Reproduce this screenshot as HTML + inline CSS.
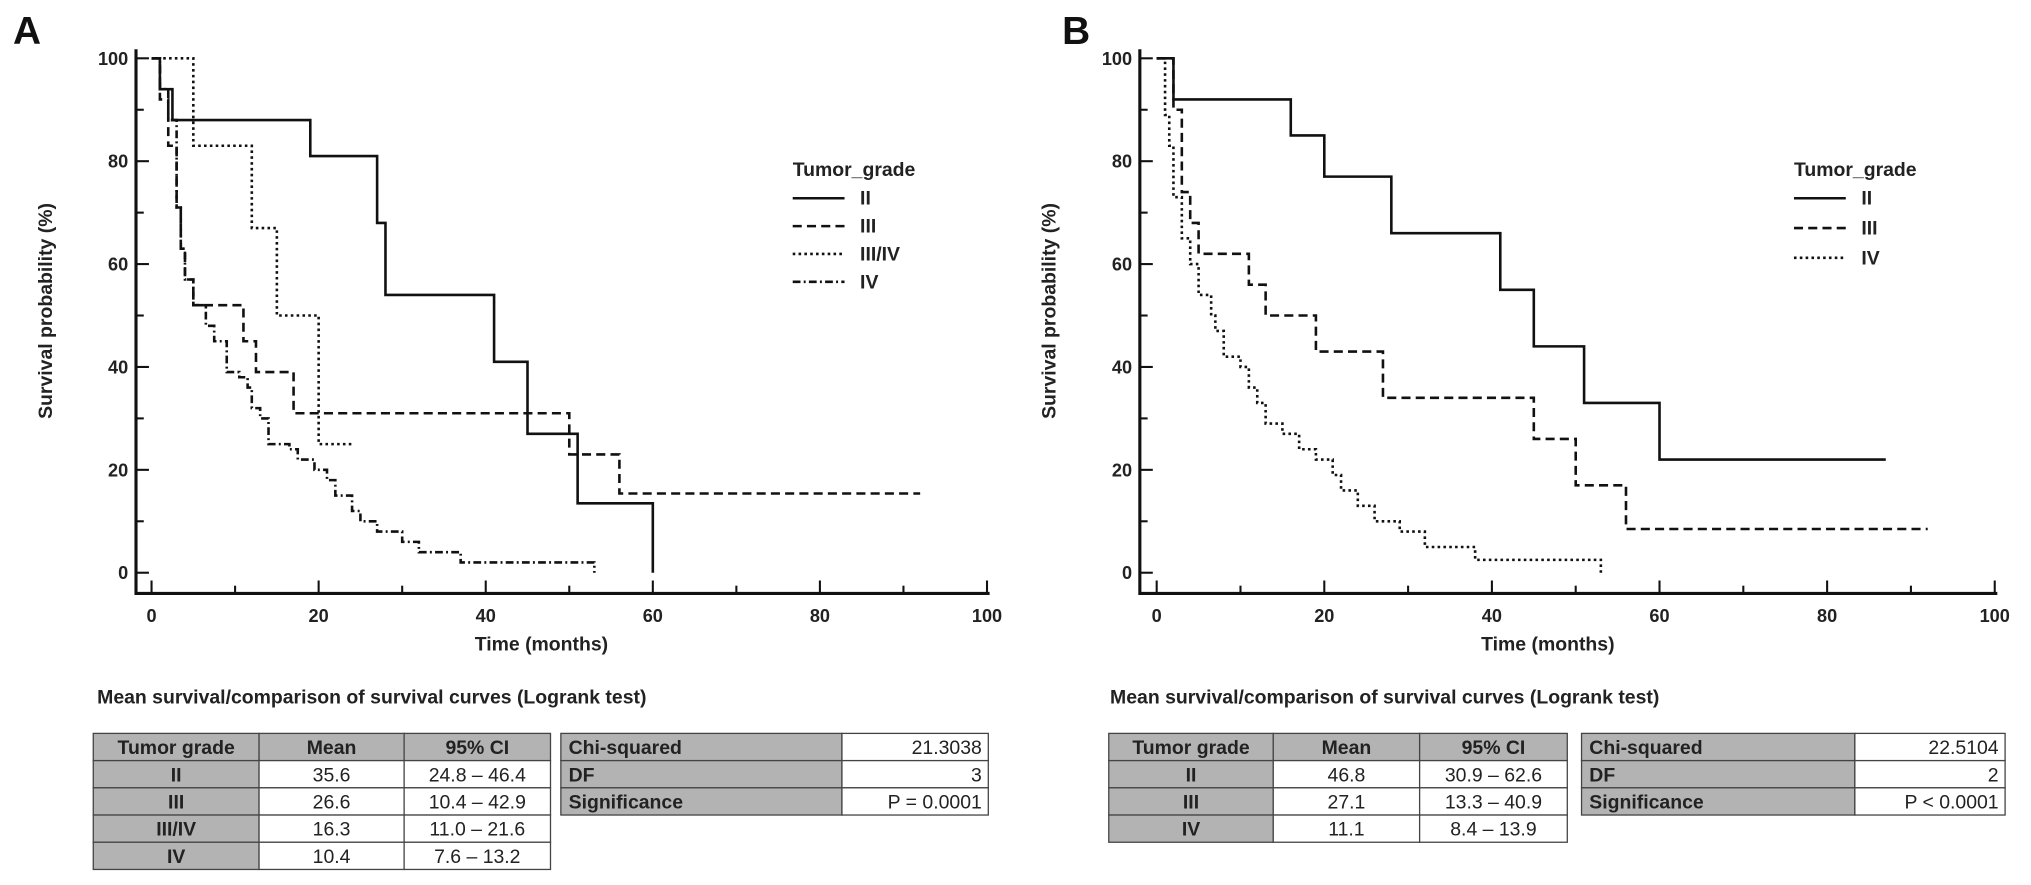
<!DOCTYPE html>
<html><head><meta charset="utf-8"><style>
body{margin:0;background:#fff;}
svg{display:block;font-family:"Liberation Sans",Arial,sans-serif;}
.t{font-weight:bold;font-size:15px;fill:#222;}
</style></head><body>
<svg id="c" width="2031" height="885" viewBox="0 0 1568 683" preserveAspectRatio="none">
<g id="root"></g>
</svg>
<script>
// Panel A data
const aIIt=[0,1,2.5,19,27,28,41,45,51,60];
const aIIs=[100,94,88,81,68,54,41,27,13.5,0];
const aIIIt=[0,1,2,3,3.5,4,5,11,12.5,17,50,56,92];
const aIIIs=[100,92,83,71,63,57,52,45,39,31,23,15.4,15.4];
const aIIIIVt=[0,5,12,15,20,24];
const aIIIIVs=[100,83,67,50,25,25];
const aIVt=[0,1,2,3,3.5,4,5,6.5,7.5,9,10.5,11.5,12,13,14,16.5,17.5,19.5,21,22,24,25,27,30,32,37,53,53];
const aIVs=[100,94,88,71,63,57,52,48,45,39,38,36,32,30,25,24,22,20,18,15,12,10,8,6,4,2,2,0];
// Panel B data
const bIIt=[0,2,16,20,28,41,45,51,60,87];
const bIIs=[100,92,85,77,66,55,44,33,22,22];
const bIIIt=[0,2,3,4,5,11,13,19,27,45,50,56,92];
const bIIIs=[100,90,74,68,62,56,50,43,34,26,17,8.5,8.5];
const bIVt=[0,1,1.5,2,3,4,5,6.5,7,8,10,11,12,13,15,17,19,21,22,24,26,29,32,38,53,53];
const bIVs=[100,89,83,73,65,60,54,50,47,42,40,36,33,29,27,24,22,19,16,13,10,8,5,2.5,2.5,0];
const xTicks=[0,20,40,60,80,100];
const yTicks=[0,20,40,60,80,100];

const NS="http://www.w3.org/2000/svg";
const root=document.getElementById('root');
function mk(tag,attrs,parent,txt){const e=document.createElementNS(NS,tag);for(const k in attrs)e.setAttribute(k,attrs[k]);if(txt!==undefined)e.textContent=txt;(parent||root).appendChild(e);return e;}

const dashes={solid:"",dash:"7,4",dot:"2,2.5",dashdot:"6,2.5,1.5,2.5"};

function panel(P){
  const g=mk('g',{});
  
  
  const X=v=>P.x0+v*P.kx, Y=v=>P.y0-v*P.ky;
  const lab=mk('text',{x:P.lx,y:34,'font-size':30,'font-weight':'bold',fill:'#111'},g,P.letter);
  
  
  const ax=mk('path',{d:`M${P.ax},38 V${P.ay} H${X(100)+2}`,stroke:'#111','stroke-width':2.4,fill:'none'},g);
  
  
  for(let v=0;v<=100;v+=10){
    const major=v%20===0;
    mk('line',{x1:X(v),x2:X(v),y1:P.ay,y2:P.ay-(major?10:6),stroke:'#111','stroke-width':1.6},g);
    mk('line',{x1:P.ax,x2:P.ax+(major?10:6),y1:Y(v),y2:Y(v),stroke:'#111','stroke-width':1.6},g);
  }
  xTicks.forEach(v=>{const t=mk('text',{x:X(v),y:P.ay+22,'text-anchor':'middle','font-size':14,'font-weight':'bold',fill:'#222'},g,String(v));
    
    });
  yTicks.forEach(v=>{const t=mk('text',{x:P.ax-6,y:Y(v)+5,'text-anchor':'end','font-size':14,'font-weight':'bold',fill:'#222'},g,String(v));
    
    });
  const xt=mk('text',{x:P.xtx,y:502,'text-anchor':'middle',class:'t'},g,'Time (months)');
  
  
  const yt=mk('text',{x:0,y:0,'text-anchor':'middle',class:'t',transform:`translate(${P.ytx},240) rotate(-90)`},g,'Survival probability (%)');
  
  
  P.series.forEach(s=>{
    let d=`M${X(s.t[0])},${Y(s.s[0])}`;
    for(let i=1;i<s.t.length;i++){d+=` H${X(s.t[i])} V${Y(s.s[i])}`;}
    const p=mk('path',{d:d,fill:'none',stroke:'#111','stroke-width':2,'stroke-dasharray':dashes[s.style]},g);
    
    
  });
  const lg=mk('g',{},g);
  
  
  mk('text',{x:P.lgx,y:P.lgy,class:'t'},lg,'Tumor_grade');
  P.series.forEach((s,i)=>{
    const yy=P.lgy+22+i*P.lgdy;
    const e=mk('g',{},lg);
    
    
    mk('line',{x1:P.lgx,x2:P.lgx+40,y1:yy-5,y2:yy-5,stroke:'#111','stroke-width':2,'stroke-dasharray':dashes[s.style]},e);
    mk('text',{x:P.lgx+52,y:yy,class:'t'},e,s.label);
  });
}

panel({name:'panel-a',letter:'A',lx:10,x0:117,kx:6.45,y0:442,ky:3.97,ax:105,ay:458,xtx:418,ytx:40,lgx:612,lgy:136,lgdy:21.5,
  series:[{t:aIIt,s:aIIs,style:'solid',label:'II'},{t:aIIIt,s:aIIIs,style:'dash',label:'III'},{t:aIIIIVt,s:aIIIIVs,style:'dot',label:'III/IV'},{t:aIVt,s:aIVs,style:'dashdot',label:'IV'}]});
panel({name:'panel-b',letter:'B',lx:820,x0:893,kx:6.47,y0:442,ky:3.97,ax:880,ay:458,xtx:1195,ytx:815,lgx:1385,lgy:136,lgdy:23,
  series:[{t:bIIt,s:bIIs,style:'solid',label:'II'},{t:bIIIt,s:bIIIs,style:'dash',label:'III'},{t:bIVt,s:bIVs,style:'dot',label:'IV'}]});

const GREY='#b3b3b3';
function table(x,y,cols,rows,h,greyRow0,name){
  const g=mk('g',{});
  
  
  rows.forEach((r,ri)=>{
    let cx=x;
    r.forEach((c,ci)=>{
      const w=cols[ci];
      const grey=(ci===0)||(greyRow0&&ri===0);
      mk('rect',{x:cx,y:y+ri*h,width:w,height:h,fill:grey?GREY:'#fff',stroke:'#444','stroke-width':1},g);
      const left=c.a==='l', right=c.a==='r';
      mk('text',{x:left?cx+6:right?cx+w-5:cx+w/2,y:y+ri*h+h/2+5.5,'text-anchor':left?'start':right?'end':'middle','font-size':15,'font-weight':grey?'bold':'normal',fill:'#222'},g,c.v);
      cx+=w;
    });
  });
}
const C=v=>({v:v}),L=v=>({v:v,a:'l'}),R=v=>({v:v,a:'r'});
mk('text',{x:75,y:543,class:'t'},root,'Mean survival/comparison of survival curves (Logrank test)');
mk('text',{x:857,y:543,class:'t'},root,'Mean survival/comparison of survival curves (Logrank test)');
table(72,566,[128,112,113],[[C('Tumor grade'),C('Mean'),C('95% CI')],[C('II'),C('35.6'),C('24.8 – 46.4')],[C('III'),C('26.6'),C('10.4 – 42.9')],[C('III/IV'),C('16.3'),C('11.0 – 21.6')],[C('IV'),C('10.4'),C('7.6 – 13.2')]],21,true,'table-a-means');
table(433,566,[217,113],[[L('Chi-squared'),R('21.3038')],[L('DF'),R('3')],[L('Significance'),R('P = 0.0001')]],21,false,'table-a-logrank');
table(856,566,[127,113,114],[[C('Tumor grade'),C('Mean'),C('95% CI')],[C('II'),C('46.8'),C('30.9 – 62.6')],[C('III'),C('27.1'),C('13.3 – 40.9')],[C('IV'),C('11.1'),C('8.4 – 13.9')]],21,true,'table-b-means');
table(1221,566,[211,116],[[L('Chi-squared'),R('22.5104')],[L('DF'),R('2')],[L('Significance'),R('P < 0.0001')]],21,false,'table-b-logrank');
</script>
</body></html>
